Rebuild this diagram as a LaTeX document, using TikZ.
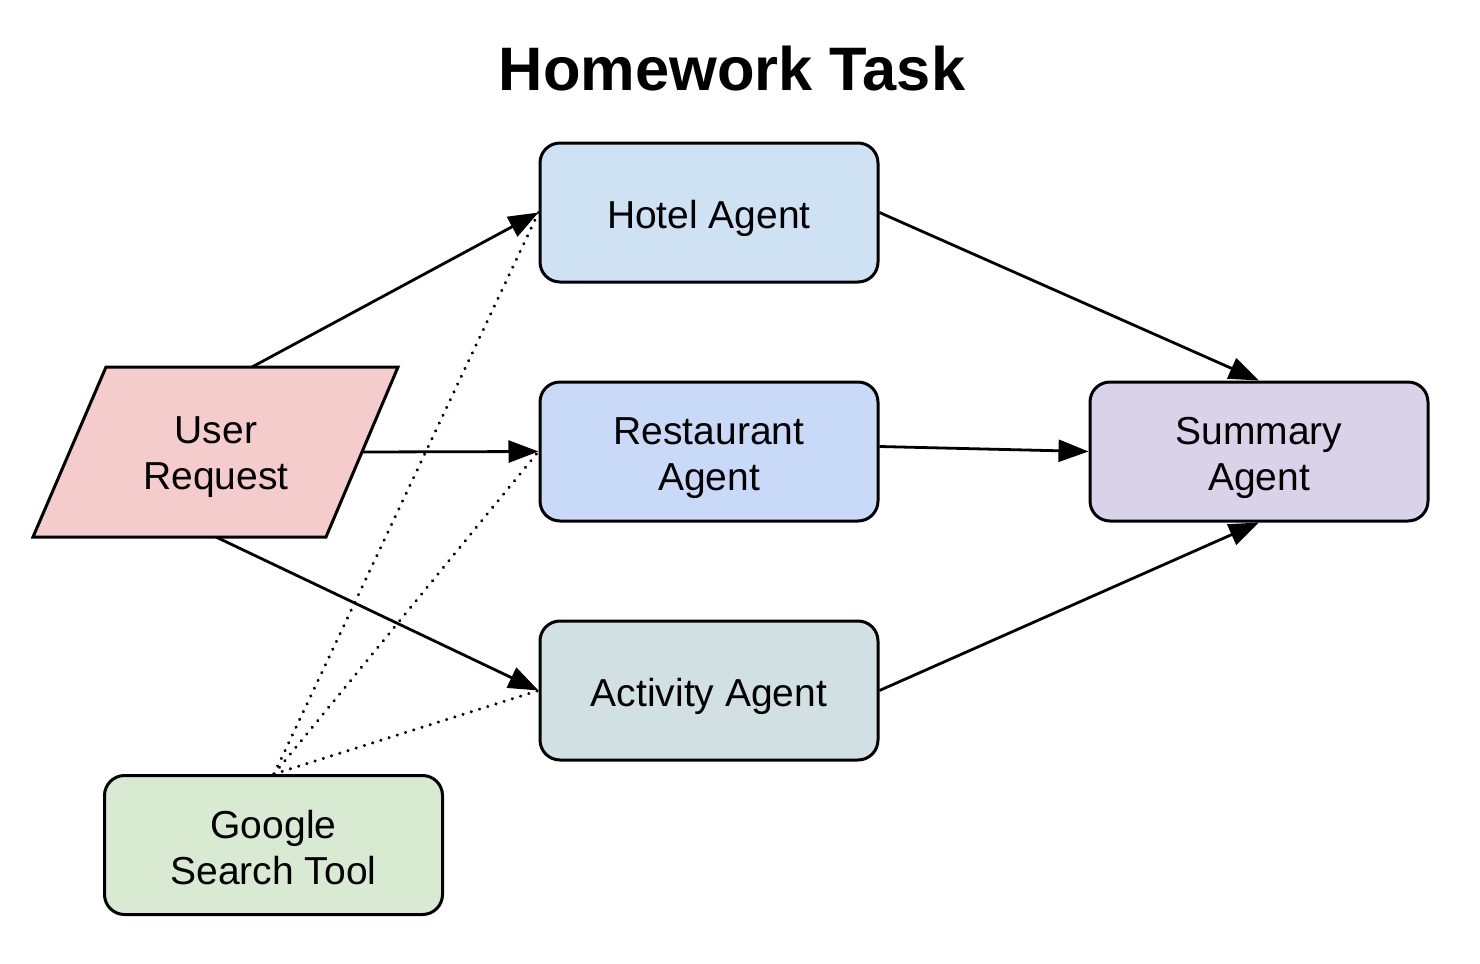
\documentclass[tikz,border=0pt]{standalone}
\usepackage{fontspec}
\setmainfont{Liberation Sans}
\usetikzlibrary{arrows.meta}
\definecolor{hotelc}{HTML}{CFE2F3}
\definecolor{restc}{HTML}{C9DAF8}
\definecolor{actc}{HTML}{D0E0E3}
\definecolor{sumc}{HTML}{D9D2E9}
\definecolor{googc}{HTML}{D9EAD3}
\definecolor{userc}{HTML}{F4CCCC}
\newcommand\vlift[1]{\rule{0pt}{#1}}
\tikzset{
  agent/.style={draw=black, line width=1.5pt, rounded corners=10pt, minimum width=169pt, minimum height=69.5pt, align=center, font=\fontsize{19.5}{23}\selectfont, inner sep=0pt},
  flow/.style={line width=1.4pt, -{Triangle[length=15pt,width=11pt]}},
  tool/.style={line width=1.7pt, line cap=round, dash pattern=on 0.01pt off 4.3pt},
}
\begin{document}
\begin{tikzpicture}[x=0.5pt,y=-0.5pt]
\useasboundingbox (0,0) rectangle (1480,964);
\node[font=\bfseries\fontsize{30.7}{36}\selectfont] (title) at (732,69) {Homework Task};
\node[agent, fill=hotelc] (hotel) at (709,212.5) {\vlift{20.4pt}Hotel Agent};
\node[agent, fill=restc] (rest) at (709,451.5) {\vlift{20.4pt}Restaurant\\Agent};
\node[agent, fill=actc] (act) at (709,690.5) {\vlift{20.4pt}Activity Agent};
\node[agent, fill=sumc] (sum) at (1259,451.5) {\vlift{20.4pt}Summary\\Agent};
\node[agent, fill=googc] (goog) at (273.5,845) {\vlift{16.4pt}Google\\Search Tool};
\draw[line width=1.5pt, fill=userc, line join=miter] (106,367) -- (398,367) -- (326,537) -- (33,537) -- cycle;
\node[align=center, font=\fontsize{19.5}{23}\selectfont] (user) at (216,457) {User\\Request};
\coordinate (uTop) at (252,367);
\coordinate (uRight) at (362,452);
\coordinate (uBot) at (216,537);
\coordinate (gTop) at (274,774);
\draw[flow] (uTop) -- (hotel.west);
\draw[flow] (uRight) -- (rest.west);
\draw[flow] (uBot) -- (act.west);
\draw[flow] (hotel.east) -- (sum.north);
\draw[flow] ([yshift=2.5pt]rest.east) -- (sum.west);
\draw[flow] (act.east) -- (sum.south);
\draw[tool] (gTop) -- (hotel.west);
\draw[tool] (gTop) -- (rest.west);
\draw[tool] (gTop) -- (act.west);
\end{tikzpicture}
\end{document}
